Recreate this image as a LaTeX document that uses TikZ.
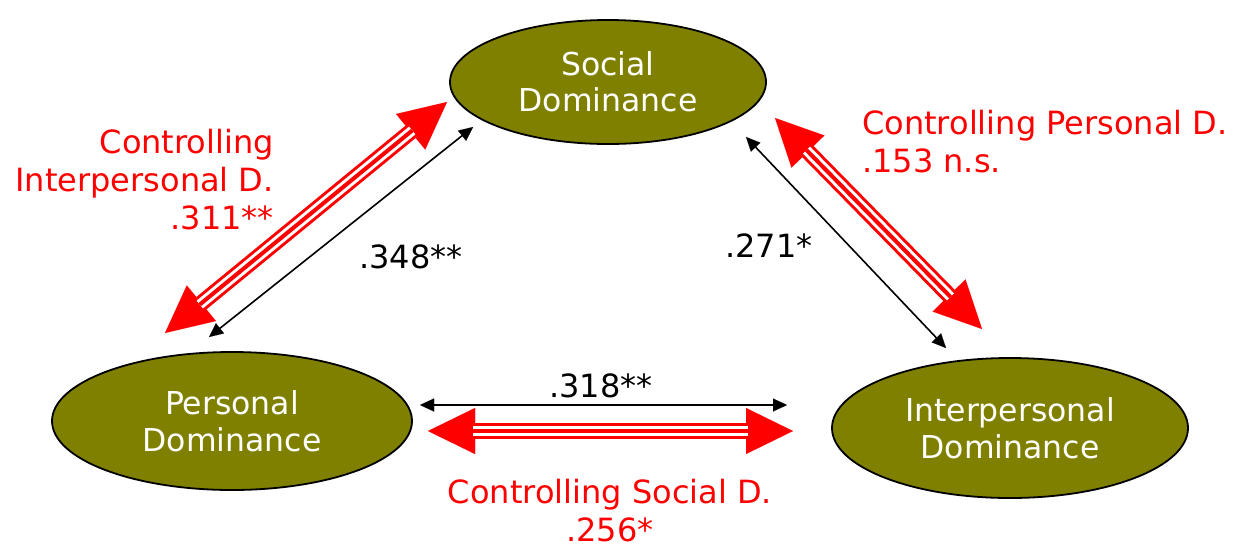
\documentclass[tikz,border=0pt]{standalone}
\usepackage{fontspec}
\setmainfont{DejaVu Sans}
\usetikzlibrary{shapes.geometric,arrows.meta}
\definecolor{olivebox}{HTML}{808000}
\tikzset{
  ell/.style={ellipse, draw=black, line width=1.8pt, fill=olivebox, text=white, align=center, inner sep=0pt, font=\fontsize{31.5}{36.5}\selectfont},
  lbl/.style={font=\fontsize{32}{38}\selectfont, inner sep=0pt},
  redlbl/.style={lbl, text=red},
  redtip/.tip={Triangle[length=47pt,width=46pt,line width=0.01pt]},
  blktip/.tip={Triangle[length=14pt,width=13pt,line width=0.01pt]},
  redbase/.style={draw=red, line width=16pt, redtip-redtip},
  redgap/.style={draw=white, line width=10pt, shorten <=45pt, shorten >=45pt},
  redmid/.style={draw=red, line width=4pt, shorten <=45pt, shorten >=45pt},
  blkarr/.style={draw=black, line width=1.6pt, blktip-blktip}
}
\begin{document}
\begin{tikzpicture}[x=1pt,y=-1pt]
\useasboundingbox (0,0) rectangle (1239,550);
% ellipses
\node[ell, minimum width=316pt, minimum height=124pt] (sd) at (608,82) {Social\\Dominance};
\node[ell, minimum width=360pt, minimum height=138pt] (pd) at (232,421) {Personal\\Dominance};
\node[ell, minimum width=356pt, minimum height=140pt] (ipd) at (1010,428) {Interpersonal\\Dominance};
% arrow end coordinates
\coordinate (bl1) at (473,127);
\coordinate (bl2) at (209,337);
\coordinate (br1) at (746,137);
\coordinate (br2) at (946,348);
\coordinate (bb1) at (420,405);
\coordinate (bb2) at (787,405);
\coordinate (rl1) at (447,102);
\coordinate (rl2) at (165,333);
\coordinate (rr1) at (775,118);
\coordinate (rr2) at (982,329);
\coordinate (rb1) at (428,431);
\coordinate (rb2) at (793,431);
% black arrows
\draw[blkarr] (bl1) -- (bl2);
\draw[blkarr] (br1) -- (br2);
\draw[blkarr] (bb1) -- (bb2);
% red triple arrows
\foreach \a/\b in {rl1/rl2, rr1/rr2, rb1/rb2}{
  \draw[redbase] (\a) -- (\b);
  \draw[redgap] (\a) -- (\b);
  \draw[redmid] (\a) -- (\b);
}
% labels (base anchor = baseline of last line)
\node[redlbl, align=right, anchor=base east] (lblL) at (274,229) {Controlling\\Interpersonal D.\\.311**};
\node[redlbl, align=left, anchor=base west] (lblR) at (862,172) {Controlling Personal D.\\.153 n.s.};
\node[redlbl, align=center, anchor=base] (lblB) at (610,541) {Controlling Social D.\\.256*};
\node[lbl, anchor=base] (v348) at (411,268) {.348**};
\node[lbl, anchor=base] (v271) at (769,257) {.271*};
\node[lbl, anchor=base] (v318) at (601,397) {.318**};
\end{tikzpicture}
\end{document}
